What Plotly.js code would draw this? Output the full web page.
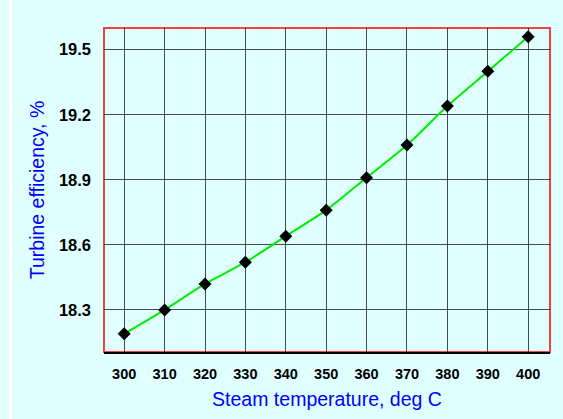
<!DOCTYPE html>
<html>
<head>
<meta charset="utf-8">
<script src="https://cdn.plot.ly/plotly-3.0.1.min.js"></script>
<style>
html,body{margin:0;padding:0;background:#E0FFFF;}
#chart{width:563px;height:419px;}
</style>
</head>
<body>
<div id="chart"></div>
<script>
const temperatures = [300, 310, 320, 330, 340, 350, 360, 370, 380, 390, 400];
const efficiency = [18.19, 18.30, 18.42, 18.52, 18.64, 18.76, 18.91, 19.06, 19.24, 19.40, 19.56];
const xTicks = [300, 310, 320, 330, 340, 350, 360, 370, 380, 390, 400];
const yTicks = [18.3, 18.6, 18.9, 19.2, 19.5];

const trace = {
  x: temperatures,
  y: efficiency,
  type: 'scatter',
  mode: 'lines+markers',
  line: {color: '#00EE00', width: 2, shape: 'spline', smoothing: 0.8},
  marker: {symbol: 'diamond', color: '#000000', size: 10},
  cliponaxis: false,
  hoverinfo: 'x+y'
};

const layout = {
  width: 563,
  height: 419,
  margin: {l: 104, r: 13, t: 28, b: 67},
  paper_bgcolor: '#E0FFFF',
  plot_bgcolor: '#E0FFFF',
  showlegend: false,
  font: {family: 'Arial, "Liberation Sans", sans-serif', color: '#000'},
  xaxis: {
    range: [295, 405.4],
    tickvals: xTicks,
    ticktext: xTicks.map(String),
    showgrid: true,
    gridcolor: 'rgba(0,0,0,0.7)',
    gridwidth: 1,
    zeroline: false,
    showline: true,
    linecolor: '#000',
    linewidth: 2,
    ticks: '',
    ticklabelstandoff: 8,
    tickfont: {size: 14.5, weight: 'bold', color: '#000'},
    title: {text: 'Steam temperature, deg C', font: {size: 19.5, color: '#0000FF'}, standoff: 11}
  },
  yaxis: {
    range: [18.106, 19.60],
    tickvals: yTicks,
    ticktext: yTicks.map(v => v.toFixed(1)),
    showgrid: true,
    gridcolor: 'rgba(0,0,0,0.7)',
    gridwidth: 1,
    zeroline: false,
    showline: false,
    ticks: '',
    ticklabelstandoff: 12,
    tickfont: {size: 16.5, weight: 'bold', color: '#000'},
    title: {text: 'Turbine efficiency, %', font: {size: 19.5, color: '#0000FF'}, standoff: 9}
  },
  shapes: [
    {type: 'rect', xref: 'paper', yref: 'paper', x0: 0, x1: 1, y0: 0, y1: 1,
     line: {color: 'rgba(255,0,0,0.75)', width: 2}, layer: 'below'},
    {type: 'rect', xref: 'paper', yref: 'paper',
     x0: (9 - 104) / 446, x1: (12 - 104) / 446, y0: -67 / 324, y1: 1 + 28 / 324,
     line: {width: 0}, fillcolor: '#FFFFFF', opacity: 1, layer: 'above'}
  ]
};

Plotly.newPlot('chart', [trace], layout, {displayModeBar: false, staticPlot: true});
</script>
</body>
</html>
